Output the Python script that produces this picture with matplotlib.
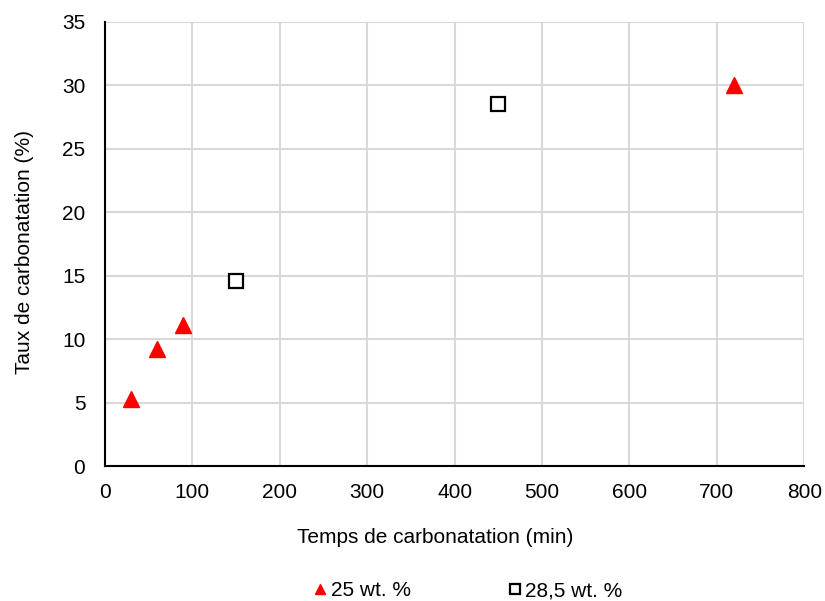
import matplotlib
matplotlib.use("Agg")
import matplotlib.pyplot as plt

plt.rcParams['font.family'] = ['Liberation Sans', 'DejaVu Sans']

# données
temps_25 = [30, 60, 90, 720]
taux_25 = [5.3, 9.2, 11.1, 30.0]
temps_285 = [150, 450]
taux_285 = [14.6, 28.5]

fig = plt.figure(figsize=(8.25, 6.01), dpi=100)
ax = fig.add_axes([0.127, 0.2246, 0.848, 0.7388])

ax.plot(temps_25, taux_25, linestyle='none', marker='^', markersize=11,
        color='#ff0000', label='25 wt. %', zorder=3)
ax.plot(temps_285, taux_285, linestyle='none', marker='s', markersize=10,
        markerfacecolor='white', markeredgecolor='black', markeredgewidth=1.6,
        label='28,5 wt. %', zorder=3)

ax.set_xlim(0, 800)
ax.set_ylim(0, 35)
ax.set_xticks(range(0, 801, 100))
ax.set_yticks(range(0, 36, 5))
ax.grid(True, color='#d9d9d9', linewidth=1.5)
ax.set_axisbelow(True)
for s in ['top', 'right']:
    ax.spines[s].set_visible(False)
for s in ['left', 'bottom']:
    ax.spines[s].set_linewidth(1.5)
    ax.spines[s].set_color('black')
ax.tick_params(length=0, labelsize=15)
ax.tick_params(axis='y', pad=14)
ax.tick_params(axis='x', pad=12)

ax.set_xlabel("Temps de carbonatation (min)", fontsize=15, labelpad=21)
ax.set_ylabel("Taux de carbonatation (%)", fontsize=15, labelpad=20)
ax.xaxis.set_label_coords(0.472, -0.14)
ax.yaxis.label.set_y(0.482)

fig.legend(loc='lower center', bbox_to_anchor=(0.565, -0.03), ncol=2, frameon=False,
           fontsize=15, handlelength=1.0, handletextpad=0.0, columnspacing=4.5,
           markerscale=0.7)

fig.savefig("out.png", dpi=100)
